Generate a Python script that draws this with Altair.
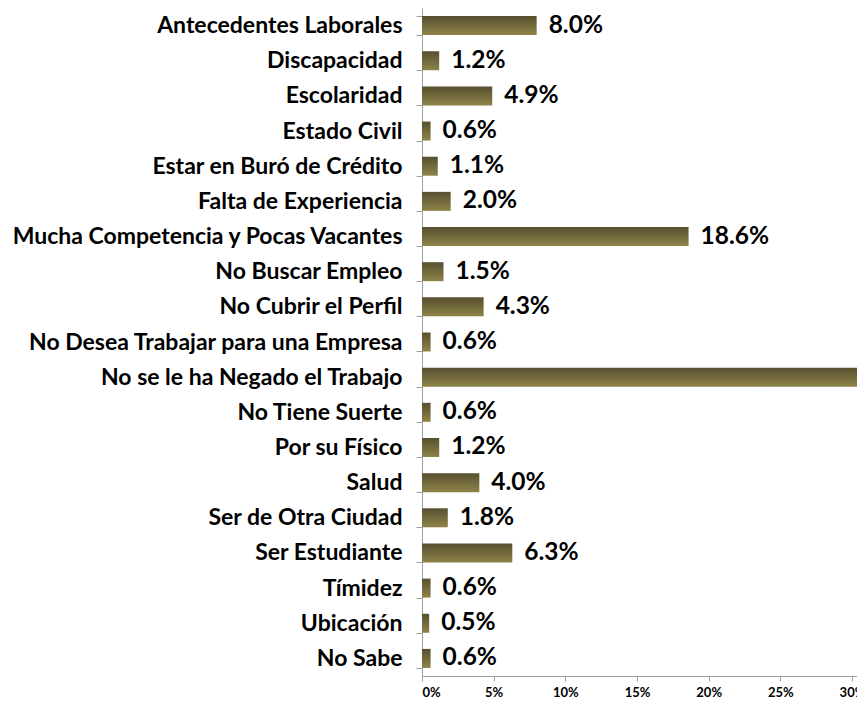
import altair as alt
import pandas as pd

categories = [
    "Antecedentes Laborales", "Discapacidad", "Escolaridad", "Estado Civil",
    "Estar en Buró de Crédito", "Falta de Experiencia",
    "Mucha Competencia y Pocas Vacantes", "No Buscar Empleo",
    "No Cubrir el Perfil", "No Desea Trabajar para una Empresa",
    "No se le ha Negado el Trabajo", "No Tiene Suerte", "Por su Físico",
    "Salud", "Ser de Otra Ciudad", "Ser Estudiante", "Tímidez", "Ubicación",
    "No Sabe",
]
values = [8.0, 1.2, 4.9, 0.6, 1.1, 2.0, 18.6, 1.5, 4.3, 0.6, 41.6, 0.6, 1.2,
          4.0, 1.8, 6.3, 0.6, 0.5, 0.6]
x_ticks = [0, 5, 10, 15, 20, 25, 30]

df = pd.DataFrame({"cat": categories, "val": values})

grad = alt.Gradient(
    gradient="linear",
    stops=[alt.GradientStop(color="#574f30", offset=0),
           alt.GradientStop(color="#8e8449", offset=1)],
    x1=0, x2=0, y1=0, y2=1,
)

y_enc = alt.Y("cat:N", sort=categories, title=None,
              scale=alt.Scale(paddingInner=0.46, paddingOuter=0.23),
              axis=alt.Axis(labelFont="Lato", labelFontWeight="bold", labelFontSize=23,
                            labelColor="#000000", labelPadding=14, labelLimit=600,
                            tickBand="extent", tickSize=6, tickColor="#a0a0a0",
                            domainColor="#a0a0a0", grid=False))
x_enc = alt.X("val:Q", title=None,
              scale=alt.Scale(domain=[0, 30.35], nice=False),
              axis=alt.Axis(values=x_ticks, labelExpr="datum.value + '%'",
                            labelFont="Lato", labelFontWeight="bold", labelFontSize=13,
                            labelColor="#000000", tickSize=5, tickColor="#a0a0a0",
                            domainColor="#a0a0a0", grid=False, labelPadding=5))

bars = alt.Chart(df).mark_bar(color=grad, size=19, clip=True).encode(y=y_enc, x=x_enc)
labels = alt.Chart(df).transform_calculate(
    lab="format(datum.val, '.1f') + '%'"
).mark_text(align="left", dx=12, font="Lato", fontWeight="bold", fontSize=24.5,
            color="#000000", clip=True).encode(
    y=alt.Y("cat:N", sort=categories), x="val:Q", text="lab:N")

chart = (bars + labels).properties(
    width=435, height=668,
    autosize=alt.AutoSizeParams(type="none"),
    padding={"top": 0, "left": 414, "right": 0, "bottom": 22},
).configure_view(stroke=None)

chart.save("out.html", embed_options={"renderer": "svg", "actions": False})
